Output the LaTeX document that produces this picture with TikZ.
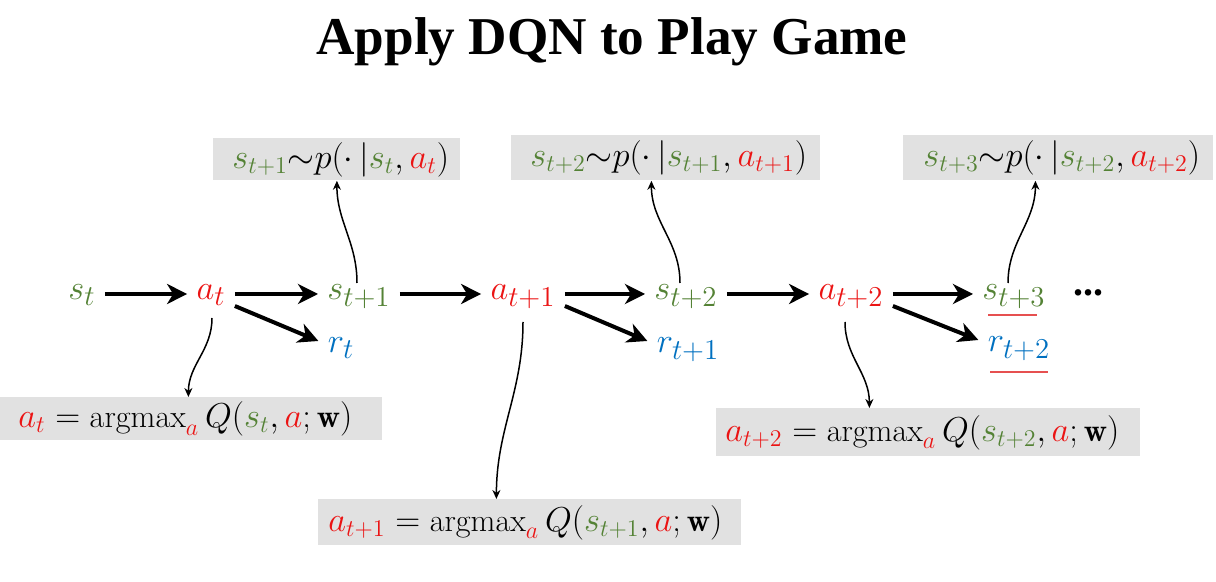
\documentclass[tikz,border=0pt]{standalone}
\usepackage{fontspec}
\newfontfamily\titlefont{Liberation Serif}
\usetikzlibrary{arrows.meta,calc}
\DeclareMathSizes{18}{18}{14}{10}
\DeclareMathSizes{16.1}{16.1}{12.7}{9}
\definecolor{gg}{RGB}{84,130,53}
\definecolor{rr}{RGB}{235,20,20}
\definecolor{bb}{RGB}{0,112,192}
\definecolor{boxgray}{RGB}{225,225,225}
\definecolor{ul}{RGB}{230,80,80}
\newcommand{\gcol}[1]{\textcolor{gg}{#1}}
\newcommand{\rcol}[1]{\textcolor{rr}{#1}}
\newcommand{\bcol}[1]{\textcolor{bb}{#1}}
\begin{document}
\begin{tikzpicture}[x=0.5pt,y=-0.5pt,
  lbl/.style={inner xsep=4.5pt, inner ysep=2pt, anchor=base, font=\fontsize{18}{21}\selectfont},
  box/.style={fill=boxgray, inner ysep=0pt, anchor=north west, align=left, font=\fontsize{16.1}{19}\selectfont},
  big/.style={line width=2pt, -{Stealth[length=10pt,width=10pt,inset=3pt]}},
  conn/.style={line width=0.75pt, -{Stealth[length=4.5pt,width=4pt]}},
]
\useasboundingbox (0,0) rectangle (1216,582);
\node[anchor=base, font=\fontsize{26.6}{30}\selectfont\titlefont\bfseries] (title) at (612,55) {Apply DQN to Play Game};

% main row
\node[lbl] (st) at (82,300) {$\gcol{s_t}$};
\node[lbl] (at) at (211,300) {$\rcol{a_t}$};
\node[lbl] (s1) at (359,300) {$\gcol{s_{t+1}}$};
\node[lbl] (rt) at (341,353) {$\bcol{r_t}$};
\node[lbl] (a1) at (523,300) {$\rcol{a_{t+1}}$};
\node[lbl] (s2) at (686,300) {$\gcol{s_{t+2}}$};
\node[lbl] (r1) at (688,353) {$\bcol{r_{t+1}}$};
\node[lbl] (a2) at (851,300) {$\rcol{a_{t+2}}$};
\node[lbl] (s3) at (1014,300) {$\gcol{s_{t+3}}$};
\node[lbl] (r2) at (1019,352) {$\bcol{r_{t+2}}$};
\node[lbl, font=\fontsize{20}{24}\selectfont\titlefont\bfseries] (dots) at (1088,296) {...};

% boxes
\node[box, minimum height=21pt, inner xsep=9.5pt, text width=104.5pt] (b1) at (213,138)
  {$\gcol{s_{t+1}}{\sim} p(\cdot\,|\gcol{s_t},\rcol{a_t})$};
\node[box, minimum height=22.5pt, inner xsep=9.5pt, text width=135.5pt] (b2) at (511,135)
  {$\gcol{s_{t+2}}{\sim} p(\cdot\,|\gcol{s_{t+1}},\rcol{a_{t+1}})$};
\node[box, minimum height=22.5pt, inner xsep=10pt, text width=135pt] (b3) at (903,135)
  {$\gcol{s_{t+3}}{\sim} p(\cdot\,|\gcol{s_{t+2}},\rcol{a_{t+2}})$};
\node[box, minimum height=21.5pt, inner xsep=9pt, text width=173pt] (b4) at (0,397)
  {$\rcol{a_t} = \mathrm{argmax}_{\rcol{a}}\, Q(\gcol{s_t},\rcol{a};\mathbf{w})$};
\node[box, minimum height=24pt, inner xsep=4.5pt, text width=203pt] (b5) at (716,408)
  {$\rcol{a_{t+2}} = \mathrm{argmax}_{\rcol{a}}\, Q(\gcol{s_{t+2}},\rcol{a};\mathbf{w})$};
\node[box, minimum height=23pt, inner xsep=5pt, text width=201.5pt] (b6) at (318,499)
  {$\rcol{a_{t+1}} = \mathrm{argmax}_{\rcol{a}}\, Q(\gcol{s_{t+1}},\rcol{a};\mathbf{w})$};

% thick arrows
\draw[big] ([yshift=3pt]st.base east) -- ([yshift=3pt]at.base west);
\draw[big] ([yshift=3pt]at.base east) -- ([yshift=3pt]s1.base west);
\draw[big] ([yshift=-3pt]at.base east) -- ([yshift=6pt]rt.base west);
\draw[big] ([yshift=3pt]s1.base east) -- ([yshift=3pt]a1.base west);
\draw[big] ([yshift=3pt]a1.base east) -- ([yshift=3pt]s2.base west);
\draw[big] ([yshift=-3pt]a1.base east) -- ([yshift=6pt]r1.base west);
\draw[big] ([yshift=3pt]s2.base east) -- ([yshift=3pt]a2.base west);
\draw[big] ([yshift=3pt]a2.base east) -- ([yshift=3pt]s3.base west);
\draw[big] ([yshift=-3pt]a2.base east) -- ([yshift=6pt]r2.base west);

% thin curved connectors
\draw[conn] ([xshift=-1pt,yshift=8.5pt]s1.base) to[out=90,in=-90] (b1.south);
\draw[conn] ([xshift=-3pt,yshift=8.5pt]s2.base) to[out=90,in=-90] ([xshift=-7.25pt]b2.south);
\draw[conn] ([xshift=-3pt,yshift=8.5pt]s3.base) to[out=90,in=-90] ([xshift=-11.5pt]b3.south);
\draw[conn] ([xshift=0.5pt,yshift=-9pt]at.base) to[out=-90,in=90] ([xshift=-1.5pt]b4.north);
\draw[conn] ([yshift=-11pt]a1.base) to[out=-90,in=90] ([xshift=-16.75pt]b6.north);
\draw[conn] ([xshift=-3pt,yshift=-11pt]a2.base) to[out=-90,in=90] ([xshift=-29.5pt]b5.north);

% red underline marks
\draw[ul, line width=0.6pt] (988,315) -- (1037,315);
\draw[ul, line width=0.6pt] (990,372) -- (1048,372);
\end{tikzpicture}
\end{document}
